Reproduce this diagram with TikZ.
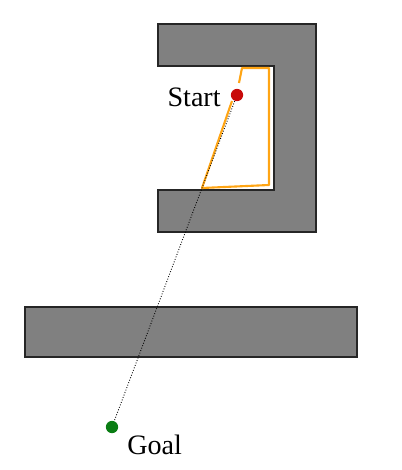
\documentclass[tikz,border=0pt]{standalone}
\usepackage{fontspec}
\setmainfont{Liberation Serif}
\definecolor{wallgray}{RGB}{128,128,128}
\definecolor{pathorange}{RGB}{255,165,20}
\definecolor{goalgreen}{RGB}{10,125,20}
\definecolor{startred}{RGB}{200,10,10}
\tikzset{
  wall/.style={fill=wallgray, draw=black!85, line width=0.6pt},
  pointdot/.style={circle, inner sep=0pt, minimum size=7pt},
  lbl/.style={font=\fontsize{16}{19}\selectfont, inner sep=0pt}
}

\begin{document}
\begin{tikzpicture}[x=0.02cm, y=-0.02cm]
			%%%%% START %%%%%
			\useasboundingbox (0, 0) rectangle (402, 470);
			
			% C-shaped obstacle
			\draw[wall] (158, 24) -- (316, 24) -- (316, 232) -- (158, 232) -- (158, 190)
			  -- (274, 190) -- (274, 66) -- (158, 66) -- cycle;
			
			% lower obstacle
			\draw[wall] (25, 307) rectangle (357, 357);
			
			% planned path
			\draw[pathorange, line width=1.2pt, line join=round]
			  (239, 83) -- (242, 68) -- (269, 68) -- (269, 185) -- (202, 188) -- (232, 101);
			
			\node[pointdot, fill=startred] (start) at (237, 95) {};
			\node[pointdot, fill=goalgreen] (goal) at (112, 427) {};
			\draw[densely dotted, line width=0.5pt] (start) -- (goal);
			
			\node[lbl, anchor=east] (startlabel) at (221, 97) {Start};
			\node[lbl, anchor=west] (goallabel) at (127, 445) {Goal};
			
			%%%%% END %%%%%
		\end{tikzpicture}
\end{document}
